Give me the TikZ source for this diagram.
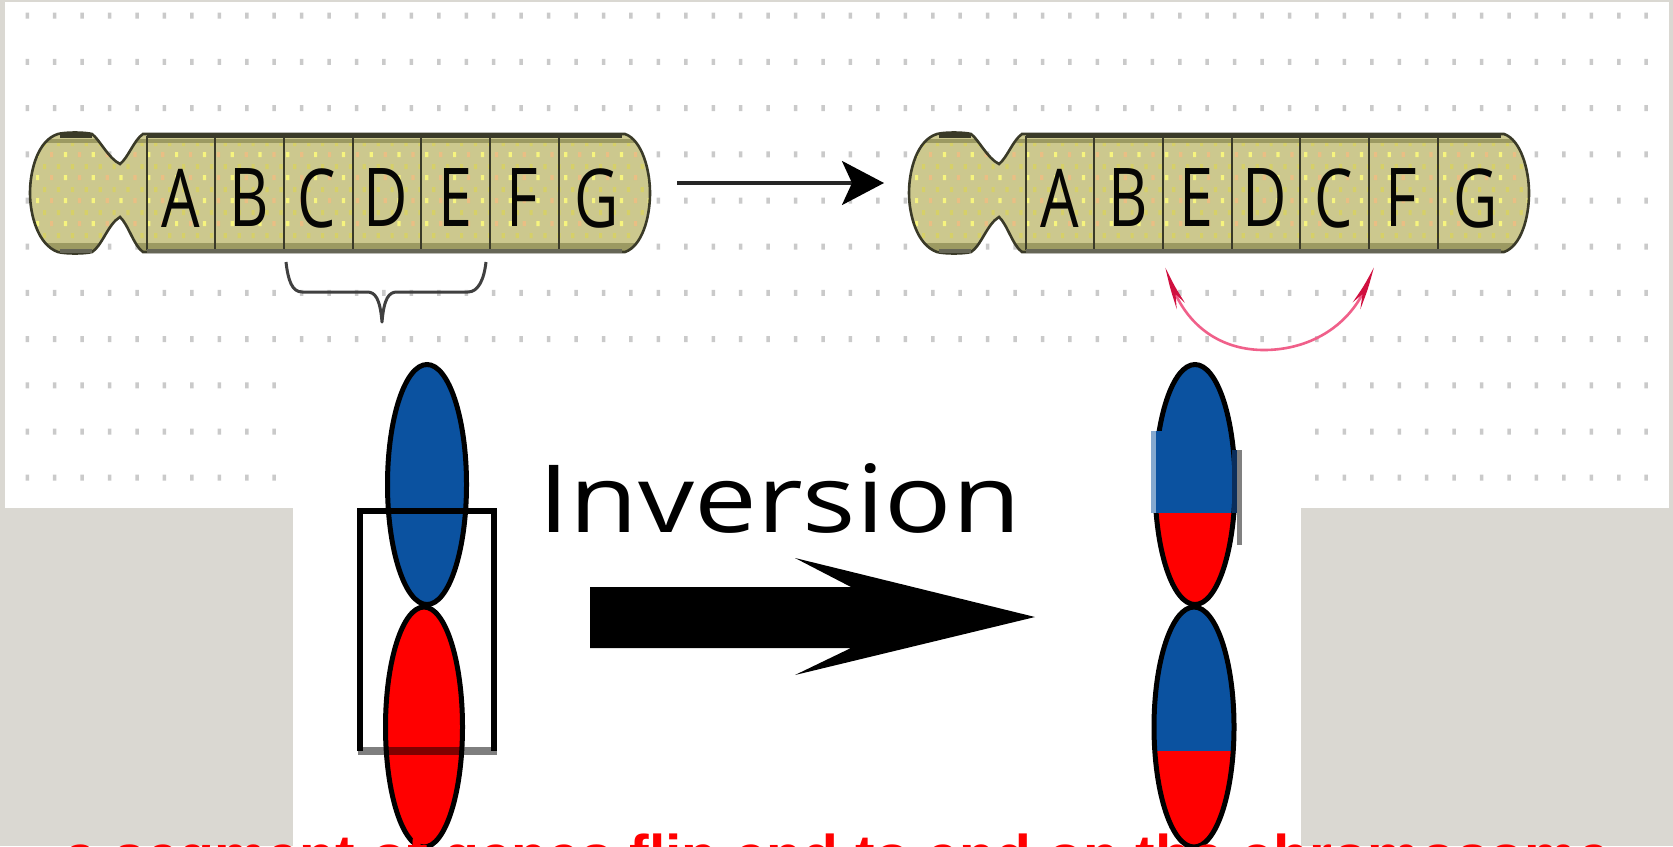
\documentclass[tikz,border=0pt]{standalone}
\usepackage{fontspec}
\setmainfont{Liberation Sans}
\newfontfamily\labelfont{Open Sans}
\usetikzlibrary{arrows.meta,bending}
\definecolor{slide}{HTML}{DAD8D2}
\definecolor{griddot}{HTML}{CACACA}
\definecolor{armfill}{HTML}{CCC88E}
\definecolor{armshade}{HTML}{9C9A62}
\definecolor{armline}{HTML}{3A3A28}
\definecolor{armlow}{HTML}{666656}
\definecolor{speckA}{HTML}{F6F47E}
\definecolor{speckB}{HTML}{EABE84}
\definecolor{speckC}{HTML}{D6D068}
\definecolor{chromblue}{HTML}{0B52A0}
\definecolor{chromnavy}{HTML}{0A2E5C}
\definecolor{arcpink}{HTML}{F0608A}
\definecolor{archead}{HTML}{D0103F}
\tikzset{
  x=0.5pt,y=-0.5pt,
  geneletter/.style={inner sep=0pt,text=black!90!armline,font=\labelfont\fontsize{40.6}{41}\selectfont,xscale=.75,anchor=center},
  divider/.style={draw=armline,line width=1.2pt},
  lobeoutline/.style={draw=black,line width=2.5pt},
}
% Outline of a banded chromosome, shifted right by #1 pixels
\newcommand{\chromoshape}[1]{
  (58+#1,134) .. controls (66+#1,132) and (84+#1,132) .. (92+#1,134)
  .. controls (100+#1,140) and (108+#1,158) .. (120+#1,164)
  .. controls (128+#1,158) and (134+#1,140) .. (143+#1,134) -- (625+#1,134)
  .. controls (642+#1,140) and (650+#1,170) .. (650+#1,193)
  .. controls (650+#1,218) and (642+#1,246) .. (625+#1,252)
  -- (143+#1,252) .. controls (134+#1,246) and (128+#1,224) .. (120+#1,217)
  .. controls (108+#1,224) and (102+#1,246) .. (92+#1,252)
  .. controls (84+#1,254) and (66+#1,254) .. (58+#1,252)
  .. controls (38+#1,245) and (30+#1,215) .. (30+#1,193)
  .. controls (30+#1,170) and (38+#1,140) .. (58+#1,134) -- cycle}
% Banded chromosome: speckled body, shading, dividers and outline
\newcommand{\chromosome}[1]{
  \fill[armfill] \chromoshape{#1};
  \begin{scope}
    \clip \chromoshape{#1};
    \fill[speckA] \foreach \r in {0,...,3} \foreach \c in {0,...,22}
      {(36+#1+27.8*\c,152+23*\r) rectangle ++(3.2,5)};
    \fill[speckB] \foreach \r in {0,...,3} \foreach \c in {0,...,22}
      {(50+#1+27.8*\c,152+23*\r) rectangle ++(3.2,5)};
    \fill[speckC] \foreach \r in {0,...,4} \foreach \c in {0,...,45}
      {(43+#1+13.9*\c,141+23*\r) rectangle ++(3.2,5)};
    \fill[armshade] (0+#1,243) rectangle (660+#1,256);
    \fill[armshade] (0+#1,139) rectangle (660+#1,143);
  \end{scope}
  \foreach \d in {147,215,284,353,421,490,559} {\draw[divider] (\d+#1,136) -- (\d+#1,250);}
  \draw[armline,line width=1.3pt] \chromoshape{#1};
  \draw[armline,line width=2.4pt] (60+#1,136) -- (92+#1,136) (147+#1,136) -- (622+#1,136);
  \draw[armlow,line width=2.4pt] (60+#1,251) -- (92+#1,251) (147+#1,251) -- (622+#1,251);
}
\begin{document}
\begin{tikzpicture}
\useasboundingbox (0,0) rectangle (1673,846);
\clip (0,0) rectangle (1673,846);
% Slide and the pasted panels
\fill[slide] (0,0) rectangle (1673,846);
\fill[white] (5,2) rectangle (1669,508);
\fill[griddot] \foreach \r in {0,...,10} \foreach \c in {0,...,59}
  {(25.5+27.44*\c,12.7+46.2*\r) rectangle ++(3.5,6)};
\fill[white] (293,345) rectangle (1301,846);

% Upper row of banded chromosomes
\chromosome{0}
\chromosome{879}
\foreach \n/\t/\p in {a/A/181,b/B/249,c/C/317,d/D/386,e/E/455,f/F/522,g/G/597}
  \node[geneletter] (top\n) at (\p,198) {\t};
\foreach \n/\t/\p in {a/A/181,b/B/249,e/E/317,d/D/386,c/C/455,f/F/522,g/G/597}
  \node[geneletter] (inv\n) at (\p+879,198) {\t};

% Arrow between the two chromosomes
\coordinate (arrowstart) at (677,183);
\coordinate (arrowend) at (884,183);
\draw[line width=1.7pt,draw=black!85,-{Stealth[length=21pt,width=22pt,inset=5pt,color=black]}] (arrowstart) -- (arrowend);

% Brace under the segment C-D-E
\coordinate (bracetip) at (382,322);
\draw[line width=1.5pt,draw=black!75,line join=round]
  (286,262) .. controls (288,280) and (292,292) .. (302,292)
  -- (367,292) .. controls (375,292) and (380,298) .. (bracetip)
  .. controls (384,298) and (389,292) .. (397,292)
  -- (468,292) .. controls (478,292) and (484,280) .. (486,262);

% Double-headed arc under the flipped segment
\coordinate (arcleft) at (1166,267);
\coordinate (arcright) at (1373,267);
\draw[arcpink,line width=1.3pt,{Stealth[bend,length=22pt,width=5pt,color=archead]}-{Stealth[bend,length=22pt,width=5pt,color=archead]}]
  (arcleft) .. controls (1180,325) and (1220,350) .. (1264,350)
  .. controls (1310,350) and (1358,325) .. (arcright);

% Schematic chromosome before the inversion
\fill[chromblue] (427,484.5) ellipse [x radius=39.5,y radius=120];
\draw[lobeoutline] (427,484.5) ellipse [x radius=39.5,y radius=120];
\fill[red] (424,727) ellipse [x radius=38.5,y radius=120];
\draw[lobeoutline] (424,727) ellipse [x radius=38.5,y radius=120];
\draw[line width=2.6pt,draw=black] (360,751) -- (360,511) -- (494,511) -- (494,751);
\draw[line width=3.6pt,draw=black,draw opacity=.5] (358,751) -- (496.5,751);

% Inversion label and block arrow
\node[inner sep=0pt,anchor=base west,font=\labelfont\fontsize{47}{47}\selectfont,xscale=1.19] (invlabel) at (538,532) {Inversion};
\fill[black] (590,587) -- (851,587) -- (795,558) -- (1035,617) -- (795,675) -- (851,648) -- (590,648) -- cycle;

% Schematic chromosome after the inversion
\begin{scope}
  \clip (1195,484.5) ellipse [x radius=40,y radius=120];
  \fill[chromblue] (1150,360) rectangle (1245,513);
  \fill[red] (1150,513) rectangle (1245,610);
\end{scope}
\draw[lobeoutline] (1195,484.5) ellipse [x radius=40,y radius=120];
\begin{scope}
  \clip (1194,727) ellipse [x radius=40,y radius=120];
  \fill[chromblue] (1145,600) rectangle (1245,751);
  \fill[red] (1145,751) rectangle (1245,850);
\end{scope}
\draw[lobeoutline] (1194,727) ellipse [x radius=40,y radius=120];
% Soft edge strips beside the upper lobe
\fill[chromblue] (1155,431) rectangle (1162,513);
\fill[chromblue!50!white] (1151,431) rectangle (1156,513);
\fill[chromnavy] (1232,450) rectangle (1237,513);
\fill[black!50] (1237,450) rectangle (1242,545);

% Caption, cut by the lower edge
\node[inner sep=0pt,anchor=base west,text=red,font=\fontsize{29.4}{29.4}\selectfont\bfseries] (caption) at (64,876)
  {a segment of genes flip end to end on the chromosome};
\end{tikzpicture}
\end{document}
